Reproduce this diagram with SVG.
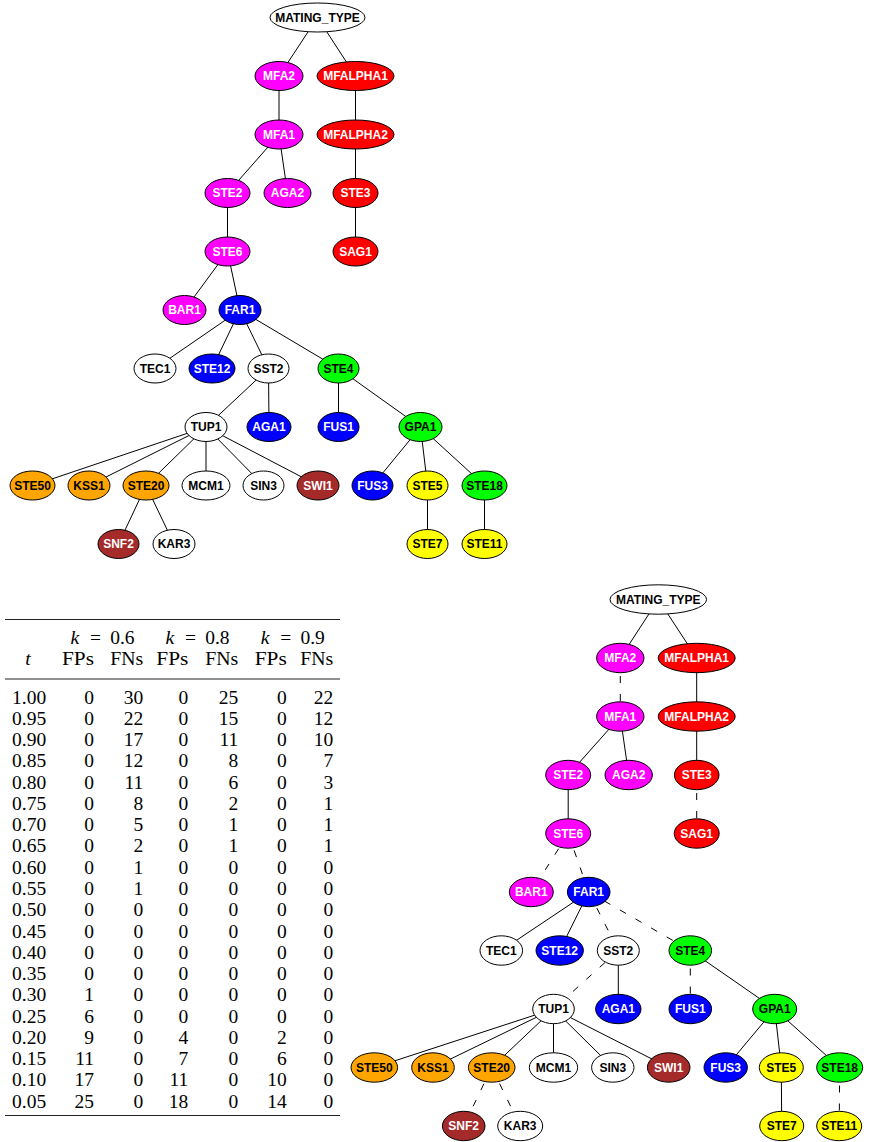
<svg xmlns="http://www.w3.org/2000/svg" width="883" height="1142" viewBox="0 0 883 1142">
<style>
  .bg{fill:#fff}
  .e{stroke:#000;stroke-width:1;fill:none}
  .d{stroke-dasharray:7 11}
  ellipse{stroke:#000;stroke-width:1}
  .wht{fill:#fff}.mag{fill:#ff00ff}.red{fill:#ff0000}.blu{fill:#0000ff}
  .grn{fill:#00ff00}.yel{fill:#ffff00}.org{fill:#ffa500}.brn{fill:#a52a2a}
  .lb{font-family:"Liberation Sans",Arial,sans-serif;font-weight:bold;font-size:12px;text-anchor:middle}
  .tw{fill:#fff}.tb{fill:#000}
  .tab{font-family:"Liberation Serif","Times New Roman",serif;font-size:19.5px;fill:#000}
  .r{text-anchor:end}.m{text-anchor:middle}
  .rule{stroke:#222;stroke-width:1.2}
</style>
<rect class="bg" width="883" height="1142"/>

<!-- upper tree: connectors -->
<g id="top-edges" class="e">
  <line x1="317.5" y1="17.5" x2="279" y2="76"/>
  <line x1="317.5" y1="17.5" x2="355.5" y2="76"/>
  <line x1="279" y1="76" x2="279" y2="134.5"/>
  <line x1="355.5" y1="76" x2="355.5" y2="134.5"/>
  <line x1="279" y1="134.5" x2="227.5" y2="193"/>
  <line x1="279" y1="134.5" x2="287.5" y2="193"/>
  <line x1="355.5" y1="134.5" x2="355.5" y2="193"/>
  <line x1="227.5" y1="193" x2="227.5" y2="251.5"/>
  <line x1="355.5" y1="193" x2="355.5" y2="251.5"/>
  <line x1="227.5" y1="251.5" x2="184.5" y2="310"/>
  <line x1="227.5" y1="251.5" x2="240" y2="310"/>
  <line x1="240" y1="310" x2="155" y2="368.5"/>
  <line x1="240" y1="310" x2="212" y2="368.5"/>
  <line x1="240" y1="310" x2="268.5" y2="368.5"/>
  <line x1="240" y1="310" x2="338.5" y2="368.5"/>
  <line x1="268.5" y1="368.5" x2="206" y2="427"/>
  <line x1="268.5" y1="368.5" x2="269" y2="427"/>
  <line x1="338.5" y1="368.5" x2="338.5" y2="427"/>
  <line x1="338.5" y1="368.5" x2="420.5" y2="427"/>
  <line x1="206" y1="427" x2="32.5" y2="485.5"/>
  <line x1="206" y1="427" x2="89" y2="485.5"/>
  <line x1="206" y1="427" x2="146" y2="485.5"/>
  <line x1="206" y1="427" x2="206" y2="485.5"/>
  <line x1="206" y1="427" x2="263.5" y2="485.5"/>
  <line x1="206" y1="427" x2="318" y2="485.5"/>
  <line x1="420.5" y1="427" x2="372.5" y2="485.5"/>
  <line x1="420.5" y1="427" x2="427.5" y2="485.5"/>
  <line x1="420.5" y1="427" x2="484.5" y2="485.5"/>
  <line x1="146" y1="485.5" x2="118.5" y2="544"/>
  <line x1="146" y1="485.5" x2="174" y2="544"/>
  <line x1="427.5" y1="485.5" x2="427.5" y2="544"/>
  <line x1="484.5" y1="485.5" x2="484.5" y2="544"/>
</g>

<!-- upper tree: nodes -->
<g id="t-MATING_TYPE"><ellipse class="wht" cx="317.5" cy="17.5" rx="47.5" ry="14.5"/><text class="lb tb" x="317.5" y="21.7">MATING_TYPE</text></g>
<g id="t-MFA2"><ellipse class="mag" cx="279" cy="76" rx="24" ry="14.5"/><text class="lb tw" x="279" y="80.2">MFA2</text></g>
<g id="t-MFALPHA1"><ellipse class="red" cx="355.5" cy="76" rx="38.5" ry="14.5"/><text class="lb tw" x="355.5" y="80.2">MFALPHA1</text></g>
<g id="t-MFA1"><ellipse class="mag" cx="279" cy="134.5" rx="24" ry="14.5"/><text class="lb tw" x="279" y="138.7">MFA1</text></g>
<g id="t-MFALPHA2"><ellipse class="red" cx="355.5" cy="134.5" rx="38.5" ry="14.5"/><text class="lb tw" x="355.5" y="138.7">MFALPHA2</text></g>
<g id="t-STE2"><ellipse class="mag" cx="227.5" cy="193" rx="22.5" ry="14.5"/><text class="lb tw" x="227.5" y="197.2">STE2</text></g>
<g id="t-AGA2"><ellipse class="mag" cx="287.5" cy="193" rx="23.5" ry="14.5"/><text class="lb tw" x="287.5" y="197.2">AGA2</text></g>
<g id="t-STE3"><ellipse class="red" cx="355.5" cy="193" rx="22.5" ry="14.5"/><text class="lb tw" x="355.5" y="197.2">STE3</text></g>
<g id="t-STE6"><ellipse class="mag" cx="227.5" cy="251.5" rx="22.5" ry="14.5"/><text class="lb tw" x="227.5" y="255.7">STE6</text></g>
<g id="t-SAG1"><ellipse class="red" cx="355.5" cy="251.5" rx="22.5" ry="14.5"/><text class="lb tw" x="355.5" y="255.7">SAG1</text></g>
<g id="t-BAR1"><ellipse class="mag" cx="184.5" cy="310" rx="21.5" ry="14.5"/><text class="lb tw" x="184.5" y="314.2">BAR1</text></g>
<g id="t-FAR1"><ellipse class="blu" cx="240" cy="310" rx="21" ry="14.5"/><text class="lb tw" x="240" y="314.2">FAR1</text></g>
<g id="t-TEC1"><ellipse class="wht" cx="155" cy="368.5" rx="21" ry="14.5"/><text class="lb tb" x="155" y="372.7">TEC1</text></g>
<g id="t-STE12"><ellipse class="blu" cx="212" cy="368.5" rx="23" ry="14.5"/><text class="lb tw" x="212" y="372.7">STE12</text></g>
<g id="t-SST2"><ellipse class="wht" cx="268.5" cy="368.5" rx="20.5" ry="14.5"/><text class="lb tb" x="268.5" y="372.7">SST2</text></g>
<g id="t-STE4"><ellipse class="grn" cx="338.5" cy="368.5" rx="20.5" ry="14.5"/><text class="lb tb" x="338.5" y="372.7">STE4</text></g>
<g id="t-TUP1"><ellipse class="wht" cx="206" cy="427" rx="21" ry="14.5"/><text class="lb tb" x="206" y="431.2">TUP1</text></g>
<g id="t-AGA1"><ellipse class="blu" cx="269" cy="427" rx="22" ry="14.5"/><text class="lb tw" x="269" y="431.2">AGA1</text></g>
<g id="t-FUS1"><ellipse class="blu" cx="338.5" cy="427" rx="20.5" ry="14.5"/><text class="lb tw" x="338.5" y="431.2">FUS1</text></g>
<g id="t-GPA1"><ellipse class="grn" cx="420.5" cy="427" rx="21.5" ry="14.5"/><text class="lb tb" x="420.5" y="431.2">GPA1</text></g>
<g id="t-STE50"><ellipse class="org" cx="32.5" cy="485.5" rx="22.5" ry="14.5"/><text class="lb tb" x="32.5" y="489.7">STE50</text></g>
<g id="t-KSS1"><ellipse class="org" cx="89" cy="485.5" rx="21" ry="14.5"/><text class="lb tb" x="89" y="489.7">KSS1</text></g>
<g id="t-STE20"><ellipse class="org" cx="146" cy="485.5" rx="23" ry="14.5"/><text class="lb tb" x="146" y="489.7">STE20</text></g>
<g id="t-MCM1"><ellipse class="wht" cx="206" cy="485.5" rx="24" ry="14.5"/><text class="lb tb" x="206" y="489.7">MCM1</text></g>
<g id="t-SIN3"><ellipse class="wht" cx="263.5" cy="485.5" rx="20.5" ry="14.5"/><text class="lb tb" x="263.5" y="489.7">SIN3</text></g>
<g id="t-SWI1"><ellipse class="brn" cx="318" cy="485.5" rx="21" ry="14.5"/><text class="lb tw" x="318" y="489.7">SWI1</text></g>
<g id="t-FUS3"><ellipse class="blu" cx="372.5" cy="485.5" rx="20.5" ry="14.5"/><text class="lb tw" x="372.5" y="489.7">FUS3</text></g>
<g id="t-STE5"><ellipse class="yel" cx="427.5" cy="485.5" rx="20.5" ry="14.5"/><text class="lb tb" x="427.5" y="489.7">STE5</text></g>
<g id="t-STE18"><ellipse class="grn" cx="484.5" cy="485.5" rx="22.5" ry="14.5"/><text class="lb tb" x="484.5" y="489.7">STE18</text></g>
<g id="t-SNF2"><ellipse class="brn" cx="118.5" cy="544" rx="20.5" ry="14.5"/><text class="lb tw" x="118.5" y="548.2">SNF2</text></g>
<g id="t-KAR3"><ellipse class="wht" cx="174" cy="544" rx="21" ry="14.5"/><text class="lb tb" x="174" y="548.2">KAR3</text></g>
<g id="t-STE7"><ellipse class="yel" cx="427.5" cy="544" rx="20.5" ry="14.5"/><text class="lb tb" x="427.5" y="548.2">STE7</text></g>
<g id="t-STE11"><ellipse class="yel" cx="484.5" cy="544" rx="22.5" ry="14.5"/><text class="lb tb" x="484.5" y="548.2">STE11</text></g>

<!-- error table -->
<g id="table" class="tab">
  <line class="rule" x1="5" y1="619.5" x2="340" y2="619.5"/>
  <line class="rule" x1="5" y1="679" x2="340" y2="679"/>
  <line class="rule" x1="5" y1="1115.5" x2="340" y2="1115.5"/>
  <g id="k-heads">
    <text x="70.5" y="644" font-style="italic">k</text><text class="m" x="95.5" y="644">=</text><text class="r" x="134.5" y="644">0.6</text>
    <text x="165.5" y="644" font-style="italic">k</text><text class="m" x="190.5" y="644">=</text><text class="r" x="229.5" y="644">0.8</text>
    <text x="260.8" y="644" font-style="italic">k</text><text class="m" x="285.8" y="644">=</text><text class="r" x="324.8" y="644">0.9</text>
  </g>
  <text class="m" x="28" y="665" font-style="italic">t</text>
  <text class="r" x="94" y="665" textLength="32" lengthAdjust="spacingAndGlyphs">FPs</text><text class="r" x="143.3" y="665" textLength="33" lengthAdjust="spacingAndGlyphs">FNs</text>
  <text class="r" x="188.3" y="665" textLength="32" lengthAdjust="spacingAndGlyphs">FPs</text><text class="r" x="238.3" y="665" textLength="33" lengthAdjust="spacingAndGlyphs">FNs</text>
  <text class="r" x="286.7" y="665" textLength="32" lengthAdjust="spacingAndGlyphs">FPs</text><text class="r" x="333.3" y="665" textLength="33" lengthAdjust="spacingAndGlyphs">FNs</text>
  <g id="col-t"><text x="12" y="703.5">1.00</text><text x="12" y="724.8">0.95</text><text x="12" y="746">0.90</text><text x="12" y="767.3">0.85</text><text x="12" y="788.6">0.80</text><text x="12" y="809.9">0.75</text><text x="12" y="831.1">0.70</text><text x="12" y="852.4">0.65</text><text x="12" y="873.7">0.60</text><text x="12" y="894.9">0.55</text><text x="12" y="916.2">0.50</text><text x="12" y="937.5">0.45</text><text x="12" y="958.7">0.40</text><text x="12" y="980">0.35</text><text x="12" y="1001.3">0.30</text><text x="12" y="1022.5">0.25</text><text x="12" y="1043.8">0.20</text><text x="12" y="1065.1">0.15</text><text x="12" y="1086.4">0.10</text><text x="12" y="1107.6">0.05</text></g>
  <g id="col-fp6" class="r"><text x="94" y="703.5">0</text><text x="94" y="724.8">0</text><text x="94" y="746">0</text><text x="94" y="767.3">0</text><text x="94" y="788.6">0</text><text x="94" y="809.9">0</text><text x="94" y="831.1">0</text><text x="94" y="852.4">0</text><text x="94" y="873.7">0</text><text x="94" y="894.9">0</text><text x="94" y="916.2">0</text><text x="94" y="937.5">0</text><text x="94" y="958.7">0</text><text x="94" y="980">0</text><text x="94" y="1001.3">1</text><text x="94" y="1022.5">6</text><text x="94" y="1043.8">9</text><text x="94" y="1065.1">11</text><text x="94" y="1086.4">17</text><text x="94" y="1107.6">25</text></g>
  <g id="col-fn6" class="r"><text x="143.3" y="703.5">30</text><text x="143.3" y="724.8">22</text><text x="143.3" y="746">17</text><text x="143.3" y="767.3">12</text><text x="143.3" y="788.6">11</text><text x="143.3" y="809.9">8</text><text x="143.3" y="831.1">5</text><text x="143.3" y="852.4">2</text><text x="143.3" y="873.7">1</text><text x="143.3" y="894.9">1</text><text x="143.3" y="916.2">0</text><text x="143.3" y="937.5">0</text><text x="143.3" y="958.7">0</text><text x="143.3" y="980">0</text><text x="143.3" y="1001.3">0</text><text x="143.3" y="1022.5">0</text><text x="143.3" y="1043.8">0</text><text x="143.3" y="1065.1">0</text><text x="143.3" y="1086.4">0</text><text x="143.3" y="1107.6">0</text></g>
  <g id="col-fp8" class="r"><text x="188.3" y="703.5">0</text><text x="188.3" y="724.8">0</text><text x="188.3" y="746">0</text><text x="188.3" y="767.3">0</text><text x="188.3" y="788.6">0</text><text x="188.3" y="809.9">0</text><text x="188.3" y="831.1">0</text><text x="188.3" y="852.4">0</text><text x="188.3" y="873.7">0</text><text x="188.3" y="894.9">0</text><text x="188.3" y="916.2">0</text><text x="188.3" y="937.5">0</text><text x="188.3" y="958.7">0</text><text x="188.3" y="980">0</text><text x="188.3" y="1001.3">0</text><text x="188.3" y="1022.5">0</text><text x="188.3" y="1043.8">4</text><text x="188.3" y="1065.1">7</text><text x="188.3" y="1086.4">11</text><text x="188.3" y="1107.6">18</text></g>
  <g id="col-fn8" class="r"><text x="238.3" y="703.5">25</text><text x="238.3" y="724.8">15</text><text x="238.3" y="746">11</text><text x="238.3" y="767.3">8</text><text x="238.3" y="788.6">6</text><text x="238.3" y="809.9">2</text><text x="238.3" y="831.1">1</text><text x="238.3" y="852.4">1</text><text x="238.3" y="873.7">0</text><text x="238.3" y="894.9">0</text><text x="238.3" y="916.2">0</text><text x="238.3" y="937.5">0</text><text x="238.3" y="958.7">0</text><text x="238.3" y="980">0</text><text x="238.3" y="1001.3">0</text><text x="238.3" y="1022.5">0</text><text x="238.3" y="1043.8">0</text><text x="238.3" y="1065.1">0</text><text x="238.3" y="1086.4">0</text><text x="238.3" y="1107.6">0</text></g>
  <g id="col-fp9" class="r"><text x="286.7" y="703.5">0</text><text x="286.7" y="724.8">0</text><text x="286.7" y="746">0</text><text x="286.7" y="767.3">0</text><text x="286.7" y="788.6">0</text><text x="286.7" y="809.9">0</text><text x="286.7" y="831.1">0</text><text x="286.7" y="852.4">0</text><text x="286.7" y="873.7">0</text><text x="286.7" y="894.9">0</text><text x="286.7" y="916.2">0</text><text x="286.7" y="937.5">0</text><text x="286.7" y="958.7">0</text><text x="286.7" y="980">0</text><text x="286.7" y="1001.3">0</text><text x="286.7" y="1022.5">0</text><text x="286.7" y="1043.8">2</text><text x="286.7" y="1065.1">6</text><text x="286.7" y="1086.4">10</text><text x="286.7" y="1107.6">14</text></g>
  <g id="col-fn9" class="r"><text x="333.3" y="703.5">22</text><text x="333.3" y="724.8">12</text><text x="333.3" y="746">10</text><text x="333.3" y="767.3">7</text><text x="333.3" y="788.6">3</text><text x="333.3" y="809.9">1</text><text x="333.3" y="831.1">1</text><text x="333.3" y="852.4">1</text><text x="333.3" y="873.7">0</text><text x="333.3" y="894.9">0</text><text x="333.3" y="916.2">0</text><text x="333.3" y="937.5">0</text><text x="333.3" y="958.7">0</text><text x="333.3" y="980">0</text><text x="333.3" y="1001.3">0</text><text x="333.3" y="1022.5">0</text><text x="333.3" y="1043.8">0</text><text x="333.3" y="1065.1">0</text><text x="333.3" y="1086.4">0</text><text x="333.3" y="1107.6">0</text></g>
</g>

<!-- lower tree: connectors (dashed ones run from parent centre) -->
<g id="bottom-edges" class="e">
  <line x1="658.3" y1="599.5" x2="620.3" y2="658"/>
  <line x1="658.3" y1="599.5" x2="696.7" y2="658"/>
  <line class="d" x1="620.3" y1="658" x2="620.3" y2="716.5"/>
  <line x1="696.7" y1="658" x2="696.7" y2="716.5"/>
  <line x1="620.3" y1="716.5" x2="568.2" y2="775"/>
  <line x1="620.3" y1="716.5" x2="628.7" y2="775"/>
  <line x1="696.7" y1="716.5" x2="696.7" y2="775"/>
  <line x1="568.2" y1="775" x2="568.2" y2="833.5"/>
  <line class="d" x1="696.7" y1="775" x2="696.7" y2="833.5"/>
  <line class="d" x1="568.2" y1="833.5" x2="531.3" y2="892"/>
  <line class="d" x1="568.2" y1="833.5" x2="588.7" y2="892"/>
  <line x1="588.7" y1="892" x2="501.3" y2="950.5"/>
  <line x1="588.7" y1="892" x2="559.7" y2="950.5"/>
  <line class="d" x1="588.7" y1="892" x2="618.3" y2="950.5"/>
  <line class="d" x1="588.7" y1="892" x2="690.3" y2="950.5"/>
  <line class="d" x1="618.3" y1="950.5" x2="553.5" y2="1009"/>
  <line x1="618.3" y1="950.5" x2="618.3" y2="1009"/>
  <line class="d" x1="690.3" y1="950.5" x2="690.3" y2="1009"/>
  <line x1="690.3" y1="950.5" x2="774.7" y2="1009"/>
  <line x1="553.5" y1="1009" x2="374.3" y2="1067.5"/>
  <line x1="553.5" y1="1009" x2="433" y2="1067.5"/>
  <line x1="553.5" y1="1009" x2="491.7" y2="1067.5"/>
  <line x1="553.5" y1="1009" x2="553.5" y2="1067.5"/>
  <line x1="553.5" y1="1009" x2="612.8" y2="1067.5"/>
  <line x1="553.5" y1="1009" x2="668.7" y2="1067.5"/>
  <line x1="774.7" y1="1009" x2="725.7" y2="1067.5"/>
  <line x1="774.7" y1="1009" x2="781.3" y2="1067.5"/>
  <line x1="774.7" y1="1009" x2="839.7" y2="1067.5"/>
  <line class="d" x1="491.7" y1="1067.5" x2="463.7" y2="1126"/>
  <line class="d" x1="491.7" y1="1067.5" x2="520.2" y2="1126"/>
  <line x1="781.3" y1="1067.5" x2="781.7" y2="1126"/>
  <line class="d" x1="839.7" y1="1067.5" x2="839.2" y2="1126"/>
</g>

<!-- lower tree: nodes -->
<g id="b-MATING_TYPE"><ellipse class="wht" cx="658.3" cy="599.5" rx="48.3" ry="14.7"/><text class="lb tb" x="658.3" y="603.7">MATING_TYPE</text></g>
<g id="b-MFA2"><ellipse class="mag" cx="620.3" cy="658" rx="23.7" ry="14.7"/><text class="lb tw" x="620.3" y="662.2">MFA2</text></g>
<g id="b-MFALPHA1"><ellipse class="red" cx="696.7" cy="658" rx="38.5" ry="14.7"/><text class="lb tw" x="696.7" y="662.2">MFALPHA1</text></g>
<g id="b-MFA1"><ellipse class="mag" cx="620.3" cy="716.5" rx="23.7" ry="14.7"/><text class="lb tw" x="620.3" y="720.7">MFA1</text></g>
<g id="b-MFALPHA2"><ellipse class="red" cx="696.7" cy="716.5" rx="38.5" ry="14.7"/><text class="lb tw" x="696.7" y="720.7">MFALPHA2</text></g>
<g id="b-STE2"><ellipse class="mag" cx="568.2" cy="775" rx="22.5" ry="14.7"/><text class="lb tw" x="568.2" y="779.2">STE2</text></g>
<g id="b-AGA2"><ellipse class="mag" cx="628.7" cy="775" rx="23.7" ry="14.7"/><text class="lb tw" x="628.7" y="779.2">AGA2</text></g>
<g id="b-STE3"><ellipse class="red" cx="696.7" cy="775" rx="22.3" ry="14.7"/><text class="lb tw" x="696.7" y="779.2">STE3</text></g>
<g id="b-STE6"><ellipse class="mag" cx="568.2" cy="833.5" rx="22.5" ry="14.7"/><text class="lb tw" x="568.2" y="837.7">STE6</text></g>
<g id="b-SAG1"><ellipse class="red" cx="696.7" cy="833.5" rx="22.5" ry="14.7"/><text class="lb tw" x="696.7" y="837.7">SAG1</text></g>
<g id="b-BAR1"><ellipse class="mag" cx="531.3" cy="892" rx="22" ry="14.7"/><text class="lb tw" x="531.3" y="896.2">BAR1</text></g>
<g id="b-FAR1"><ellipse class="blu" cx="588.7" cy="892" rx="21.3" ry="14.7"/><text class="lb tw" x="588.7" y="896.2">FAR1</text></g>
<g id="b-TEC1"><ellipse class="wht" cx="501.3" cy="950.5" rx="21.3" ry="14.7"/><text class="lb tb" x="501.3" y="954.7">TEC1</text></g>
<g id="b-STE12"><ellipse class="blu" cx="559.7" cy="950.5" rx="23.7" ry="14.7"/><text class="lb tw" x="559.7" y="954.7">STE12</text></g>
<g id="b-SST2"><ellipse class="wht" cx="618.3" cy="950.5" rx="21" ry="14.7"/><text class="lb tb" x="618.3" y="954.7">SST2</text></g>
<g id="b-STE4"><ellipse class="grn" cx="690.3" cy="950.5" rx="21.3" ry="14.7"/><text class="lb tb" x="690.3" y="954.7">STE4</text></g>
<g id="b-TUP1"><ellipse class="wht" cx="553.5" cy="1009" rx="20.8" ry="14.7"/><text class="lb tb" x="553.5" y="1013.2">TUP1</text></g>
<g id="b-AGA1"><ellipse class="blu" cx="618.3" cy="1009" rx="22.7" ry="14.7"/><text class="lb tw" x="618.3" y="1013.2">AGA1</text></g>
<g id="b-FUS1"><ellipse class="blu" cx="690.3" cy="1009" rx="21.3" ry="14.7"/><text class="lb tw" x="690.3" y="1013.2">FUS1</text></g>
<g id="b-GPA1"><ellipse class="grn" cx="774.7" cy="1009" rx="22" ry="14.7"/><text class="lb tb" x="774.7" y="1013.2">GPA1</text></g>
<g id="b-STE50"><ellipse class="org" cx="374.3" cy="1067.5" rx="23.3" ry="14.7"/><text class="lb tb" x="374.3" y="1071.7">STE50</text></g>
<g id="b-KSS1"><ellipse class="org" cx="433" cy="1067.5" rx="21.3" ry="14.7"/><text class="lb tb" x="433" y="1071.7">KSS1</text></g>
<g id="b-STE20"><ellipse class="org" cx="491.7" cy="1067.5" rx="23.3" ry="14.7"/><text class="lb tb" x="491.7" y="1071.7">STE20</text></g>
<g id="b-MCM1"><ellipse class="wht" cx="553.5" cy="1067.5" rx="24.2" ry="14.7"/><text class="lb tb" x="553.5" y="1071.7">MCM1</text></g>
<g id="b-SIN3"><ellipse class="wht" cx="612.8" cy="1067.5" rx="21.2" ry="14.7"/><text class="lb tb" x="612.8" y="1071.7">SIN3</text></g>
<g id="b-SWI1"><ellipse class="brn" cx="668.7" cy="1067.5" rx="21.3" ry="14.7"/><text class="lb tw" x="668.7" y="1071.7">SWI1</text></g>
<g id="b-FUS3"><ellipse class="blu" cx="725.7" cy="1067.5" rx="21.7" ry="14.7"/><text class="lb tw" x="725.7" y="1071.7">FUS3</text></g>
<g id="b-STE5"><ellipse class="yel" cx="781.3" cy="1067.5" rx="22" ry="14.7"/><text class="lb tb" x="781.3" y="1071.7">STE5</text></g>
<g id="b-STE18"><ellipse class="grn" cx="839.7" cy="1067.5" rx="23" ry="14.7"/><text class="lb tb" x="839.7" y="1071.7">STE18</text></g>
<g id="b-SNF2"><ellipse class="brn" cx="463.7" cy="1126" rx="21.3" ry="14.7"/><text class="lb tw" x="463.7" y="1130.2">SNF2</text></g>
<g id="b-KAR3"><ellipse class="wht" cx="520.2" cy="1126" rx="22.5" ry="14.7"/><text class="lb tb" x="520.2" y="1130.2">KAR3</text></g>
<g id="b-STE7"><ellipse class="yel" cx="781.7" cy="1126" rx="22" ry="14.7"/><text class="lb tb" x="781.7" y="1130.2">STE7</text></g>
<g id="b-STE11"><ellipse class="yel" cx="839.2" cy="1126" rx="22.5" ry="14.7"/><text class="lb tb" x="839.2" y="1130.2">STE11</text></g>
</svg>
